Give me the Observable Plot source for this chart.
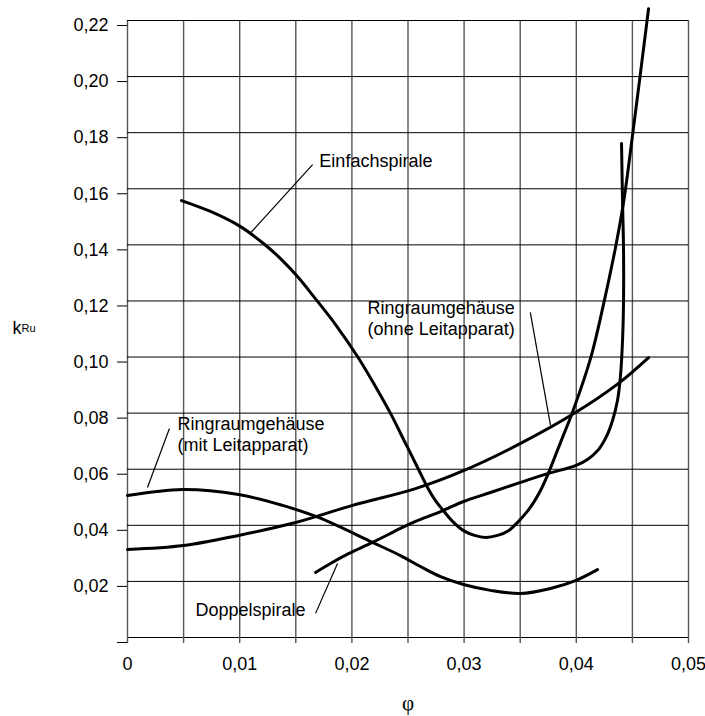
<!DOCTYPE html>
<html>
<head>
<meta charset="utf-8">
<script src="https://cdn.jsdelivr.net/npm/d3@7"></script>
<script src="https://cdn.jsdelivr.net/npm/@observablehq/plot@0.6"></script>
<style>
  html, body { margin: 0; padding: 0; background: #fff; }
</style>
</head>
<body>
<div id="chart"></div>
<script>
// ---- tick values ----
const xTicks = [0, 0.005, 0.01, 0.015, 0.02, 0.025, 0.03, 0.035, 0.04, 0.045, 0.05];
const xLabelTicks = [0, 0.01, 0.02, 0.03, 0.04, 0.05];
const yTicks = [0, 0.02, 0.04, 0.06, 0.08, 0.10, 0.12, 0.14, 0.16, 0.18, 0.20, 0.22];

// ---- series (phi, kRu) ----
const einfachPhi = [0.00481, 0.00740, 0.01007, 0.01212, 0.01364, 0.01515, 0.01667, 0.01854, 0.02050, 0.02210, 0.02344, 0.02478, 0.02594, 0.02674, 0.02745, 0.02808, 0.02897, 0.02995, 0.03093, 0.03191, 0.03298, 0.03396, 0.03485, 0.03556, 0.03619, 0.03681, 0.03743, 0.03859, 0.03975, 0.04127, 0.04242, 0.04349, 0.04421, 0.04501, 0.04644];
const einfachK   = [0.1558, 0.1519, 0.1465, 0.1405, 0.1351, 0.1287, 0.1212, 0.1116, 0.1002, 0.0895, 0.0799, 0.0692, 0.0599, 0.0535, 0.0488, 0.0456, 0.0414, 0.0381, 0.0364, 0.0357, 0.0364, 0.0381, 0.0414, 0.0446, 0.0481, 0.0524, 0.0578, 0.0695, 0.0813, 0.0995, 0.1187, 0.1390, 0.1551, 0.1790, 0.2242];

const doppelPhi = [0.01676, 0.01809, 0.01970, 0.02184, 0.02433, 0.02567, 0.02790, 0.02995, 0.03235, 0.03503, 0.03752, 0.03993, 0.04100, 0.04198, 0.04269, 0.04323, 0.04367, 0.04394, 0.04412, 0.04421, 0.04421, 0.04412, 0.04403];
const doppelK   = [0.0232, 0.0264, 0.0299, 0.0339, 0.0389, 0.0414, 0.0449, 0.0485, 0.0517, 0.0553, 0.0585, 0.0613, 0.0635, 0.0670, 0.0717, 0.0774, 0.0845, 0.0934, 0.1059, 0.1201, 0.1380, 0.1558, 0.1761];

const ohnePhi = [0, 0.00499, 0.00989, 0.01497, 0.02005, 0.02567, 0.02995, 0.03503, 0.03993, 0.04376, 0.04644];
const ohneK   = [0.0314, 0.0328, 0.0364, 0.0410, 0.0471, 0.0531, 0.0595, 0.0692, 0.0802, 0.0906, 0.0998];

const mitPhi = [0, 0.00490, 0.00989, 0.01382, 0.01702, 0.02184, 0.02433, 0.02611, 0.02790, 0.02995, 0.03235, 0.03503, 0.03770, 0.03993, 0.04189];
const mitK   = [0.0506, 0.0528, 0.0510, 0.0471, 0.0428, 0.0339, 0.0292, 0.0253, 0.0217, 0.0189, 0.0168, 0.0157, 0.0175, 0.0203, 0.0242];

// ---- annotation labels and leader lines ----
const labelText = ["Einfachspirale", "Ringraumgehäuse\n(ohne Leitapparat)", "Ringraumgehäuse\n(mit Leitapparat)", "Doppelspirale"];
const labelPhi  = [0.0171, 0.0214, 0.00446, 0.00606];
const labelK    = [0.1704, 0.1140, 0.0727, 0.0103];

const leaderPhi1 = [0.0110, 0.0377, 0.00178, 0.01676];
const leaderK1   = [0.1444, 0.0756, 0.0535, 0.0086];
const leaderPhi2 = [0.0165, 0.0359, 0.00374, 0.01872];
const leaderK2   = [0.1686, 0.1159, 0.0745, 0.0264];

// ---- build tables ----
const toRows = (name, xs, ys) => xs.map((x, i) => ({series: name, phi: x, k: ys[i]}));
const curves = [
  toRows("Einfachspirale", einfachPhi, einfachK),
  toRows("Doppelspirale", doppelPhi, doppelK),
  toRows("ohne", ohnePhi, ohneK),
  toRows("mit", mitPhi, mitK)
];
const labels = labelText.map((t, i) => ({text: t, phi: labelPhi[i], k: labelK[i]}));
const leaders = leaderPhi1.map((_, i) => ({x1: leaderPhi1[i], y1: leaderK1[i], x2: leaderPhi2[i], y2: leaderK2[i]}));

const fmt = d => {
  if (Math.abs(d) < 1e-9) return "0";
  return d.toFixed(2).replace(".", ",");
};
const xFmt = d => xLabelTicks.some(t => Math.abs(t - d) < 1e-9) ? fmt(d) : "";
const yFmt = d => Math.abs(d) < 1e-9 ? "" : fmt(d);

const font = "'Liberation Sans', Arial, Helvetica, sans-serif";

const chart = Plot.plot({
  width: 705,
  height: 716,
  marginLeft: 127,
  marginRight: 17,
  marginTop: 20,
  marginBottom: 79,
  style: {fontFamily: font, fontSize: "18px", background: "#fff", color: "#000", overflow: "visible"},
  x: {domain: [0, 0.05]},
  y: {domain: [0, 0.22]},
  marks: [
    Plot.gridX(xTicks, {stroke: "#555", strokeOpacity: 1, strokeWidth: 1.4}),
    Plot.gridY(yTicks, {stroke: "#000", strokeOpacity: 1, strokeWidth: 1}),
    Plot.axisX(xTicks, {tickSize: 6, tickPadding: 14, tickFormat: xFmt, label: null, stroke: "#555", strokeWidth: 1.4, fontSize: 18}),
    Plot.axisY(yTicks, {tickSize: 10, tickPadding: 9, tickFormat: yFmt, label: null, dy: 5, fontSize: 18}),
    // labels (white boxes are added behind them after rendering)
    Plot.text(labels, {x: "phi", y: "k", text: "text", textAnchor: "start", lineAnchor: "middle", lineHeight: 1.2,
      fill: "#000", fontSize: 18, ariaLabel: "curve-labels"}),
    // curves
    ...curves.map(rows => Plot.line(rows, {x: "phi", y: "k", curve: "catmull-rom", stroke: "#000", strokeWidth: 3})),
    // leader lines
    Plot.link(leaders, {x1: "x1", y1: "y1", x2: "x2", y2: "y2", stroke: "#000", strokeWidth: 1.2}),
    // y-axis title k_Ru
    Plot.text(["k"], {x: [-0.01025], y: [0.1102], textAnchor: "start", lineAnchor: "middle", fontSize: 18}),
    Plot.text(["Ru"], {x: [-0.01025], y: [0.1102], dx: 9, dy: 0.5, textAnchor: "start", lineAnchor: "middle", fontSize: 11}),
    // x-axis title phi
    Plot.text(["φ"], {frameAnchor: "bottom", dy: 66, lineAnchor: "middle", fontSize: 21, fontFamily: "'Liberation Serif', 'Times New Roman', serif"})
  ]
});

document.getElementById("chart").appendChild(chart);

// white boxes behind the curve labels (they interrupt the grid as in the original)
const padL = 9, padR = 13, padT = 4, padB = 3;
chart.querySelectorAll('g[aria-label="curve-labels"] text').forEach(t => {
  const b = t.getBBox();
  const r = document.createElementNS("http://www.w3.org/2000/svg", "rect");
  r.setAttribute("x", b.x - padL);
  r.setAttribute("y", b.y - padT);
  r.setAttribute("width", b.width + padL + padR);
  r.setAttribute("height", b.height + padT + padB);
  r.setAttribute("fill", "#fff");
  r.setAttribute("stroke", "none");
  const tr = t.getAttribute("transform");
  if (tr) r.setAttribute("transform", tr);
  t.parentNode.insertBefore(r, t);
});
</script>
</body>
</html>
